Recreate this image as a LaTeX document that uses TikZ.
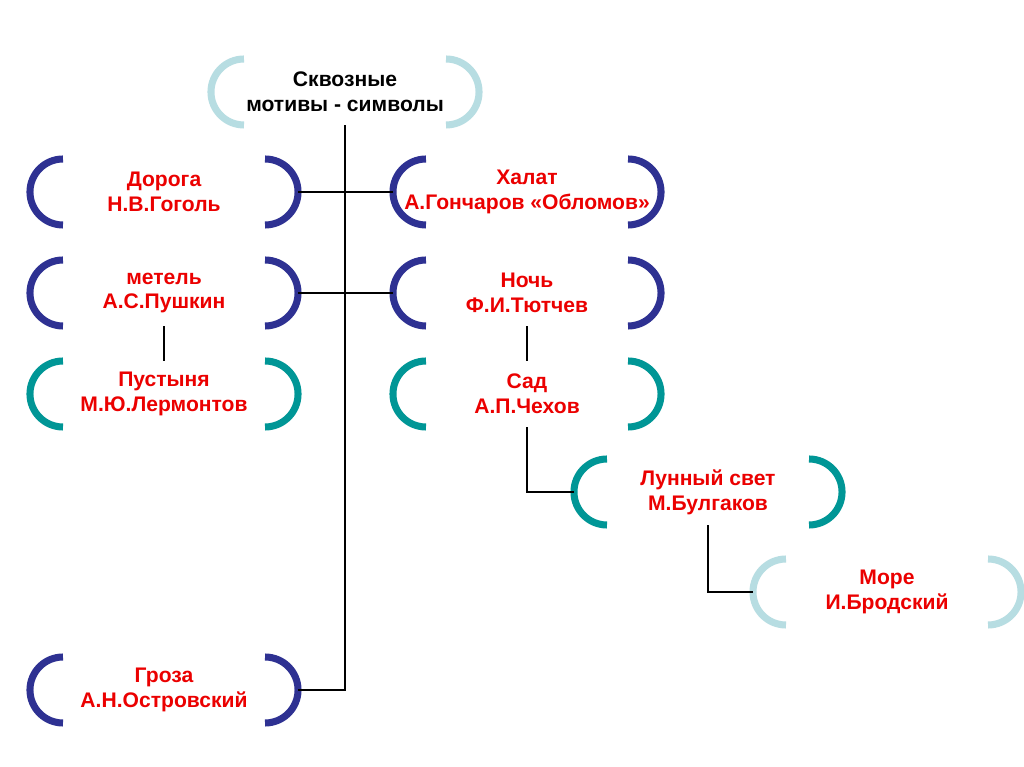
\documentclass[tikz,border=0pt]{standalone}
\usepackage{fontspec}
\setmainfont{Liberation Sans}
\definecolor{navy}{RGB}{46,49,146}
\definecolor{sea}{RGB}{0,150,150}
\definecolor{pale}{RGB}{183,221,226}
\definecolor{motred}{RGB}{235,0,0}
\tikzset{
  motif/.style={minimum width=6.7cm,minimum height=1.65cm,inner sep=0pt,outer sep=0pt,
    align=center,text=motred,font=\fontsize{15}{17.7}\selectfont\bfseries},
  bracket/.style={line width=5pt},
  link/.style={line width=0.9pt,black}
}
\begin{document}
\begin{tikzpicture}[x=0.025cm,y=0.025cm]
\useasboundingbox[fill=white](0,0) rectangle (1024,-767);
\node[motif,text=black](top) at (345,-92){Сквозные\\мотивы - символы};
\node[motif](dor) at (164,-192){Дорога\\Н.В.Гоголь};
\node[motif](hal) at (527,-192){Халат\\А.Гончаров «Обломов»};
\node[motif](met) at (164,-293){метель\\А.С.Пушкин};
\node[motif](noch) at (527,-293){Ночь\\Ф.И.Тютчев};
\node[motif](pust) at (164,-394){Пустыня\\М.Ю.Лермонтов};
\node[motif](sad) at (527,-394){Сад\\А.П.Чехов};
\node[motif](lun) at (708,-492){Лунный свет\\М.Булгаков};
\node[motif](more) at (887,-592){Море\\И.Бродский};
\node[motif](groza) at (164,-690){Гроза\\А.Н.Островский};
\foreach \n/\c in {top/pale,dor/navy,hal/navy,met/navy,noch/navy,pust/sea,sad/sea,lun/sea,more/pale,groza/navy}{
  \draw[bracket,\c](\n.north west)++(33,0) arc[start angle=90,end angle=270,radius=33];
  \draw[bracket,\c](\n.north east)++(-33,0) arc[start angle=90,end angle=-90,radius=33];
}
\draw[link](top.south) |- (groza.east);
\draw[link](dor.east) -- (hal.west);
\draw[link](met.east) -- (noch.west);
\draw[link](met.south) -- (pust.north);
\draw[link](noch.south) -- (sad.north);
\draw[link](sad.south) |- (lun.west);
\draw[link](lun.south) |- (more.west);
\end{tikzpicture}
\end{document}
